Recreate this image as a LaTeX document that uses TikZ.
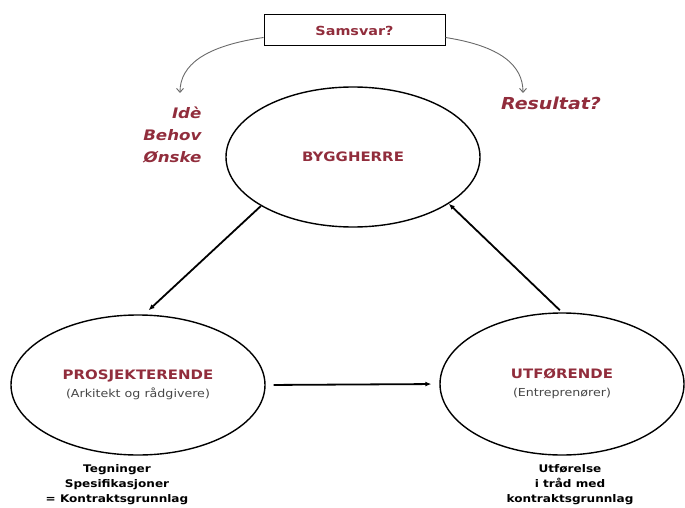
\documentclass[tikz,border=0pt]{standalone}
\usepackage{fontspec}
\setmainfont{DejaVu Sans}[FakeStretch=1.15]
\usepackage{tikz}
\usetikzlibrary{arrows.meta}
\usetikzlibrary{shapes.geometric}
\usetikzlibrary{positioning}
\definecolor{rodtekst}{RGB}{145,45,60}
\definecolor{pilgraa}{RGB}{105,105,105}
\definecolor{undertekst}{RGB}{70,70,70}
\tikzset{aktor/.style = {draw, ellipse, line width=1.4pt, inner sep=0pt, align=center,
                         text=rodtekst, font=\fontsize{13}{18}\selectfont\bfseries},
         hovedpil/.style = {line width=1.8pt, -{Latex[length=6pt,width=5pt]}},
         buepil/.style = {draw=pilgraa, line width=0.9pt, -{Straight Barb[length=4pt,width=7pt]}},
         rodkursiv/.style = {text=rodtekst, font=\fontsize{14.5}{22}\selectfont\bfseries\itshape, align=right},
         fotnote/.style = {font=\fontsize{10.5}{15}\selectfont\bfseries, align=center}}
\newcommand{\underlinje}[1]{{\fontsize{11}{18}\selectfont\mdseries\color{undertekst}#1}}

\begin{document}
\begin{tikzpicture}[x=1pt,y=-1pt]
    \useasboundingbox (0,0) rectangle (685,508);
    \node[draw, line width=1pt, minimum width=181pt, minimum height=31pt, text=rodtekst,
          font=\fontsize{12.5}{13}\selectfont\bfseries] (samsvar) at (354.5,30.5) {Samsvar?};
    \node[aktor, minimum width=254pt, minimum height=140pt] (byggherre) at (353,157) {BYGGHERRE};
    \node[aktor, minimum width=254pt, minimum height=140pt] (prosjekterende) at (138,385)
          {PROSJEKTERENDE\\\underlinje{(Arkitekt og rådgivere)}};
    \node[aktor, minimum width=244pt, minimum height=142pt] (utforende) at (562,384)
          {UTFØRENDE\\\underlinje{(Entreprenører)}};
    \node[rodkursiv, anchor=east] (onsker) at (205,135) {Idè\\Behov\\Ønske};
    \node[rodkursiv, font=\fontsize{16.5}{18}\selectfont\bfseries\itshape] (resultat) at (551,103) {Resultat?};
    \node[fotnote] (grunnlag) at (117,485) {Tegninger\\Spesifikasjoner\\= Kontraktsgrunnlag};
    \node[fotnote] (utforelse) at (570,485) {Utførelse\\i tråd med\\kontraktsgrunnlag};
    \coordinate (idepil) at (180,93);
    \coordinate (resultatpil) at (523,93);
    \draw[buepil] ([yshift=-7pt]samsvar.west) .. controls (205,46) and (180,65) .. (idepil);
    \draw[buepil] ([yshift=-7pt]samsvar.east) .. controls (500,46) and (523,65) .. (resultatpil);
    \draw[hovedpil, shorten >=6pt] (byggherre.208) -- (prosjekterende.85);
    \draw[hovedpil, shorten <=3pt] (utforende.north) -- (byggherre.334);
    \draw[hovedpil, shorten <=8pt, shorten >=8pt] (prosjekterende.east) -- (utforende.west);
\end{tikzpicture}
\end{document}
